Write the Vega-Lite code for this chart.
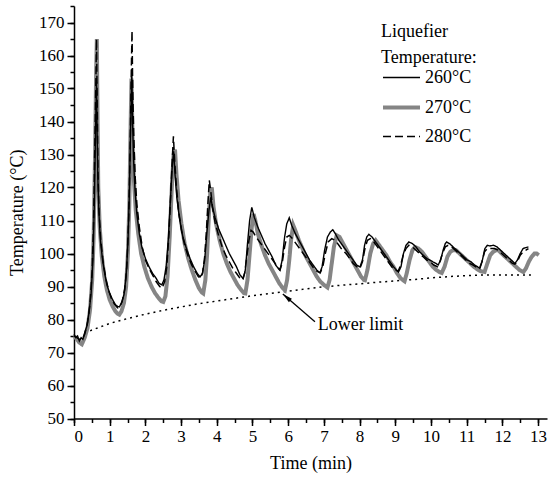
{
  "$schema": "https://vega.github.io/schema/vega-lite/v6.json",
  "autosize": {"type": "none"},
  "padding": {"left": 74, "top": 6, "right": 6, "bottom": 63},
  "width": 473,
  "height": 412.5,
  "background": "white",
  "config": {
    "view": {"stroke": null},
    "font": "Liberation Serif, Times New Roman, DejaVu Serif, serif",
    "text": {"font": "Liberation Serif, Times New Roman, DejaVu Serif, serif"},
    "axis": {
      "domainColor": "black", "domainWidth": 1.5, "tickColor": "black", "tickWidth": 1.5,
      "labelFont": "Liberation Serif, Times New Roman, DejaVu Serif, serif", "labelFontSize": 17, "labelColor": "black",
      "titleFont": "Liberation Serif, Times New Roman, DejaVu Serif, serif", "titleFontSize": 18, "titleFontWeight": "normal", "titleColor": "black",
      "grid": false
    },
    "legend": {
      "labelFont": "Liberation Serif, Times New Roman, DejaVu Serif, serif",
      "titleFont": "Liberation Serif, Times New Roman, DejaVu Serif, serif"
    }
  },
  "datasets": {
    "lim": [
      {"t": 0.3, "v": 75.8}, {"t": 0.5, "v": 76.8}, {"t": 1.0, "v": 78.8}, {"t": 1.5, "v": 80.3},
      {"t": 2.0, "v": 81.6}, {"t": 2.5, "v": 82.8}, {"t": 3.0, "v": 83.8}, {"t": 3.5, "v": 84.8},
      {"t": 4.0, "v": 85.6}, {"t": 4.5, "v": 86.4}, {"t": 5.0, "v": 87.2}, {"t": 5.5, "v": 87.9},
      {"t": 6.0, "v": 88.6}, {"t": 6.5, "v": 89.3}, {"t": 7.0, "v": 89.9}, {"t": 7.5, "v": 90.4},
      {"t": 8.0, "v": 90.8}, {"t": 8.5, "v": 91.3}, {"t": 9.0, "v": 91.7}, {"t": 9.5, "v": 92.1},
      {"t": 10.0, "v": 92.6}, {"t": 10.5, "v": 93.0}, {"t": 11.0, "v": 93.3}, {"t": 11.5, "v": 93.5},
      {"t": 12.0, "v": 93.5}, {"t": 12.5, "v": 93.5}, {"t": 12.8, "v": 93.5}
    ],
    "arrow": [{"t": 6.75, "v": 79.3, "t2": 5.85, "v2": 87.7, "ht": 5.956, "hv": 86.72}],
    "note": [{"t": 6.83, "v": 78.3, "label": "Lower limit"}],
    "series": [
      {"s":270,"t":0.00,"v":75},{"s":270,"t":0.08,"v":74},{"s":270,"t":0.15,"v":73},{"s":270,"t":0.22,"v":72.5},
      {"s":270,"t":0.30,"v":74.5},{"s":270,"t":0.38,"v":77.5},{"s":270,"t":0.45,"v":83},{"s":270,"t":0.51,"v":92},
      {"s":270,"t":0.55,"v":105},{"s":270,"t":0.59,"v":130},{"s":270,"t":0.62,"v":155},{"s":270,"t":0.64,"v":165},
      {"s":270,"t":0.66,"v":140},{"s":270,"t":0.68,"v":120},{"s":270,"t":0.72,"v":108},{"s":270,"t":0.78,"v":99},
      {"s":270,"t":0.85,"v":93},{"s":270,"t":0.92,"v":89},{"s":270,"t":1.00,"v":86},{"s":270,"t":1.08,"v":84},
      {"s":270,"t":1.16,"v":82.5},{"s":270,"t":1.22,"v":81.8},{"s":270,"t":1.27,"v":81.5},{"s":270,"t":1.33,"v":82.5},
      {"s":270,"t":1.40,"v":85},{"s":270,"t":1.46,"v":90},{"s":270,"t":1.51,"v":100},{"s":270,"t":1.55,"v":115},
      {"s":270,"t":1.58,"v":135},{"s":270,"t":1.61,"v":153},{"s":270,"t":1.64,"v":135},{"s":270,"t":1.68,"v":122},
      {"s":270,"t":1.73,"v":113},{"s":270,"t":1.80,"v":106},{"s":270,"t":1.88,"v":100},{"s":270,"t":1.97,"v":96},
      {"s":270,"t":2.07,"v":92.5},{"s":270,"t":2.17,"v":90},{"s":270,"t":2.27,"v":88},{"s":270,"t":2.37,"v":86.5},
      {"s":270,"t":2.45,"v":85.5},{"s":270,"t":2.50,"v":85.3},{"s":270,"t":2.56,"v":87},{"s":270,"t":2.62,"v":93},
      {"s":270,"t":2.68,"v":105},{"s":270,"t":2.74,"v":120},{"s":270,"t":2.79,"v":130},{"s":270,"t":2.83,"v":131.5},
      {"s":270,"t":2.87,"v":124},{"s":270,"t":2.93,"v":116},{"s":270,"t":3.01,"v":109},{"s":270,"t":3.10,"v":103},
      {"s":270,"t":3.20,"v":98.5},{"s":270,"t":3.30,"v":95},{"s":270,"t":3.40,"v":92},{"s":270,"t":3.50,"v":89.5},
      {"s":270,"t":3.58,"v":88.2},{"s":270,"t":3.62,"v":87.9},{"s":270,"t":3.68,"v":92},{"s":270,"t":3.73,"v":100},
      {"s":270,"t":3.78,"v":112},{"s":270,"t":3.82,"v":119},{"s":270,"t":3.86,"v":120},{"s":270,"t":3.91,"v":114},
      {"s":270,"t":3.98,"v":109},{"s":270,"t":4.08,"v":104},{"s":270,"t":4.18,"v":100},{"s":270,"t":4.28,"v":97},
      {"s":270,"t":4.38,"v":94.5},{"s":270,"t":4.48,"v":92.5},{"s":270,"t":4.58,"v":90.5},{"s":270,"t":4.68,"v":89},
      {"s":270,"t":4.76,"v":88},{"s":270,"t":4.80,"v":87.9},{"s":270,"t":4.86,"v":92},{"s":270,"t":4.92,"v":100},
      {"s":270,"t":4.98,"v":108},{"s":270,"t":5.03,"v":112},{"s":270,"t":5.08,"v":110},{"s":270,"t":5.15,"v":106},
      {"s":270,"t":5.25,"v":102.5},{"s":270,"t":5.35,"v":99.5},{"s":270,"t":5.45,"v":97},{"s":270,"t":5.55,"v":95},
      {"s":270,"t":5.65,"v":93},{"s":270,"t":5.75,"v":91},{"s":270,"t":5.85,"v":89.5},{"s":270,"t":5.91,"v":88.9},
      {"s":270,"t":5.97,"v":92},{"s":270,"t":6.03,"v":98},{"s":270,"t":6.08,"v":104},{"s":270,"t":6.14,"v":108.6},
      {"s":270,"t":6.20,"v":107},{"s":270,"t":6.30,"v":104},{"s":270,"t":6.40,"v":101.5},{"s":270,"t":6.50,"v":99},
      {"s":270,"t":6.60,"v":97},{"s":270,"t":6.70,"v":95},{"s":270,"t":6.80,"v":93},{"s":270,"t":6.90,"v":91.5},
      {"s":270,"t":7.00,"v":90.5},{"s":270,"t":7.10,"v":89.7},{"s":270,"t":7.16,"v":92},{"s":270,"t":7.22,"v":97},
      {"s":270,"t":7.28,"v":102},{"s":270,"t":7.36,"v":105.5},{"s":270,"t":7.44,"v":105},{"s":270,"t":7.54,"v":103},
      {"s":270,"t":7.64,"v":101},{"s":270,"t":7.74,"v":99},{"s":270,"t":7.84,"v":97},{"s":270,"t":7.94,"v":95},
      {"s":270,"t":8.04,"v":93},{"s":270,"t":8.12,"v":92},{"s":270,"t":8.15,"v":91.9},{"s":270,"t":8.22,"v":95},
      {"s":270,"t":8.30,"v":100},{"s":270,"t":8.38,"v":103},{"s":270,"t":8.45,"v":104},{"s":270,"t":8.55,"v":102.5},
      {"s":270,"t":8.65,"v":101},{"s":270,"t":8.75,"v":99.5},{"s":270,"t":8.85,"v":97.5},{"s":270,"t":8.95,"v":96},
      {"s":270,"t":9.05,"v":94},{"s":270,"t":9.15,"v":92.5},{"s":270,"t":9.26,"v":91.6},{"s":270,"t":9.32,"v":94},
      {"s":270,"t":9.40,"v":98},{"s":270,"t":9.48,"v":101},{"s":270,"t":9.55,"v":102},{"s":270,"t":9.65,"v":101.5},
      {"s":270,"t":9.75,"v":100.5},{"s":270,"t":9.85,"v":99},{"s":270,"t":9.95,"v":97.5},{"s":270,"t":10.05,"v":96},
      {"s":270,"t":10.15,"v":95},{"s":270,"t":10.25,"v":94.3},{"s":270,"t":10.30,"v":94.1},{"s":270,"t":10.38,"v":96},
      {"s":270,"t":10.46,"v":99},{"s":270,"t":10.54,"v":100.5},{"s":270,"t":10.62,"v":101},{"s":270,"t":10.70,"v":101},
      {"s":270,"t":10.80,"v":100},{"s":270,"t":10.90,"v":99},{"s":270,"t":11.00,"v":98},{"s":270,"t":11.10,"v":97},
      {"s":270,"t":11.20,"v":96},{"s":270,"t":11.30,"v":95.2},{"s":270,"t":11.40,"v":94.6},{"s":270,"t":11.50,"v":94.4},
      {"s":270,"t":11.58,"v":97},{"s":270,"t":11.66,"v":99.5},{"s":270,"t":11.74,"v":100.5},{"s":270,"t":11.82,"v":101},
      {"s":270,"t":11.89,"v":101},{"s":270,"t":11.98,"v":100},{"s":270,"t":12.08,"v":99},{"s":270,"t":12.18,"v":98},
      {"s":270,"t":12.28,"v":97},{"s":270,"t":12.38,"v":96},{"s":270,"t":12.48,"v":95},{"s":270,"t":12.59,"v":94.4},
      {"s":270,"t":12.66,"v":95.5},{"s":270,"t":12.74,"v":97.5},{"s":270,"t":12.82,"v":99},{"s":270,"t":12.90,"v":100},
      {"s":270,"t":12.96,"v":100},{"s":270,"t":13.02,"v":99.5},

      {"s":260,"t":0.00,"v":75.5},{"s":260,"t":0.05,"v":74.5},{"s":260,"t":0.10,"v":75},{"s":260,"t":0.15,"v":73.5},
      {"s":260,"t":0.20,"v":74.5},{"s":260,"t":0.25,"v":74},{"s":260,"t":0.30,"v":76},{"s":260,"t":0.36,"v":78},
      {"s":260,"t":0.42,"v":82},{"s":260,"t":0.48,"v":88},{"s":260,"t":0.53,"v":98},{"s":260,"t":0.57,"v":115},
      {"s":260,"t":0.60,"v":135},{"s":260,"t":0.63,"v":152},{"s":260,"t":0.65,"v":135},{"s":260,"t":0.67,"v":122},
      {"s":260,"t":0.70,"v":112},{"s":260,"t":0.74,"v":104},{"s":260,"t":0.80,"v":98},{"s":260,"t":0.86,"v":94},
      {"s":260,"t":0.92,"v":90.5},{"s":260,"t":1.00,"v":88},{"s":260,"t":1.08,"v":86},{"s":260,"t":1.16,"v":84.5},
      {"s":260,"t":1.22,"v":84},{"s":260,"t":1.27,"v":83.8},{"s":260,"t":1.33,"v":85},{"s":260,"t":1.40,"v":87.5},
      {"s":260,"t":1.46,"v":93},{"s":260,"t":1.51,"v":103},{"s":260,"t":1.55,"v":118},{"s":260,"t":1.59,"v":140},
      {"s":260,"t":1.62,"v":156},{"s":260,"t":1.64,"v":140},{"s":260,"t":1.67,"v":128},{"s":260,"t":1.71,"v":119},
      {"s":260,"t":1.76,"v":112},{"s":260,"t":1.83,"v":106},{"s":260,"t":1.90,"v":102},{"s":260,"t":2.00,"v":98.5},
      {"s":260,"t":2.10,"v":96},{"s":260,"t":2.20,"v":94},{"s":260,"t":2.30,"v":92.5},{"s":260,"t":2.38,"v":91},
      {"s":260,"t":2.46,"v":90.5},{"s":260,"t":2.52,"v":92},{"s":260,"t":2.58,"v":96},{"s":260,"t":2.64,"v":104},
      {"s":260,"t":2.70,"v":116},{"s":260,"t":2.75,"v":126},{"s":260,"t":2.79,"v":131},{"s":260,"t":2.83,"v":124},
      {"s":260,"t":2.88,"v":117},{"s":260,"t":2.95,"v":111},{"s":260,"t":3.05,"v":105},{"s":260,"t":3.15,"v":101.5},
      {"s":260,"t":3.25,"v":98.5},{"s":260,"t":3.35,"v":96},{"s":260,"t":3.45,"v":94},{"s":260,"t":3.53,"v":92.9},
      {"s":260,"t":3.60,"v":94},{"s":260,"t":3.66,"v":98},{"s":260,"t":3.72,"v":106},{"s":260,"t":3.78,"v":113},
      {"s":260,"t":3.83,"v":117},{"s":260,"t":3.88,"v":114},{"s":260,"t":3.95,"v":111},{"s":260,"t":4.05,"v":107.5},
      {"s":260,"t":4.15,"v":105},{"s":260,"t":4.25,"v":102.5},{"s":260,"t":4.35,"v":100},{"s":260,"t":4.45,"v":98},
      {"s":260,"t":4.55,"v":96},{"s":260,"t":4.65,"v":93.5},{"s":260,"t":4.74,"v":92.4},{"s":260,"t":4.80,"v":95},
      {"s":260,"t":4.86,"v":103},{"s":260,"t":4.92,"v":110},{"s":260,"t":4.98,"v":114},{"s":260,"t":5.05,"v":111},
      {"s":260,"t":5.15,"v":108},{"s":260,"t":5.25,"v":105.5},{"s":260,"t":5.35,"v":103},{"s":260,"t":5.45,"v":101},
      {"s":260,"t":5.55,"v":99},{"s":260,"t":5.65,"v":96.5},{"s":260,"t":5.72,"v":95.5},{"s":260,"t":5.77,"v":94.9},
      {"s":260,"t":5.83,"v":98},{"s":260,"t":5.90,"v":105},{"s":260,"t":5.96,"v":109},{"s":260,"t":6.03,"v":110.8},
      {"s":260,"t":6.10,"v":108.5},{"s":260,"t":6.20,"v":106},{"s":260,"t":6.30,"v":104},{"s":260,"t":6.40,"v":102},
      {"s":260,"t":6.50,"v":100},{"s":260,"t":6.60,"v":98},{"s":260,"t":6.70,"v":96.5},{"s":260,"t":6.80,"v":95},
      {"s":260,"t":6.89,"v":94.1},{"s":260,"t":6.95,"v":96},{"s":260,"t":7.02,"v":101},{"s":260,"t":7.10,"v":105},
      {"s":260,"t":7.18,"v":106.5},{"s":260,"t":7.25,"v":107.2},{"s":260,"t":7.32,"v":106},{"s":260,"t":7.42,"v":104},
      {"s":260,"t":7.52,"v":102.5},{"s":260,"t":7.62,"v":101},{"s":260,"t":7.72,"v":99.5},{"s":260,"t":7.82,"v":98},
      {"s":260,"t":7.92,"v":96.5},{"s":260,"t":8.01,"v":95.9},{"s":260,"t":8.08,"v":98},{"s":260,"t":8.14,"v":102.5},
      {"s":260,"t":8.20,"v":105},{"s":260,"t":8.26,"v":105.8},{"s":260,"t":8.35,"v":105},{"s":260,"t":8.45,"v":103.5},
      {"s":260,"t":8.55,"v":102},{"s":260,"t":8.65,"v":100.5},{"s":260,"t":8.75,"v":99},{"s":260,"t":8.85,"v":97.5},
      {"s":260,"t":8.95,"v":96},{"s":260,"t":9.03,"v":95},{"s":260,"t":9.09,"v":94.4},{"s":260,"t":9.16,"v":96},
      {"s":260,"t":9.23,"v":100},{"s":260,"t":9.30,"v":102.5},{"s":260,"t":9.38,"v":103.5},{"s":260,"t":9.48,"v":103},
      {"s":260,"t":9.58,"v":102},{"s":260,"t":9.68,"v":100.5},{"s":260,"t":9.78,"v":99.5},{"s":260,"t":9.88,"v":98.5},
      {"s":260,"t":9.97,"v":98},{"s":260,"t":10.05,"v":97.5},{"s":260,"t":10.14,"v":97},{"s":260,"t":10.20,"v":96.5},
      {"s":260,"t":10.27,"v":98},{"s":260,"t":10.34,"v":101},{"s":260,"t":10.40,"v":103},{"s":260,"t":10.44,"v":103.5},
      {"s":260,"t":10.52,"v":103},{"s":260,"t":10.62,"v":102},{"s":260,"t":10.72,"v":101},{"s":260,"t":10.82,"v":100},
      {"s":260,"t":10.92,"v":99},{"s":260,"t":11.02,"v":98},{"s":260,"t":11.12,"v":97.5},{"s":260,"t":11.22,"v":96.5},
      {"s":260,"t":11.30,"v":96},{"s":260,"t":11.37,"v":95.5},{"s":260,"t":11.44,"v":98},{"s":260,"t":11.51,"v":101.5},
      {"s":260,"t":11.58,"v":102.5},{"s":260,"t":11.65,"v":102.3},{"s":260,"t":11.75,"v":102.5},{"s":260,"t":11.85,"v":102},
      {"s":260,"t":11.95,"v":101},{"s":260,"t":12.05,"v":100},{"s":260,"t":12.15,"v":99},{"s":260,"t":12.25,"v":98},
      {"s":260,"t":12.35,"v":97},{"s":260,"t":12.42,"v":98},{"s":260,"t":12.50,"v":100},{"s":260,"t":12.58,"v":101.5},
      {"s":260,"t":12.66,"v":101.8},{"s":260,"t":12.73,"v":102},

      {"s":280,"t":0.00,"v":75},{"s":280,"t":0.08,"v":74.5},{"s":280,"t":0.15,"v":74},{"s":280,"t":0.22,"v":73.8},
      {"s":280,"t":0.30,"v":75.5},{"s":280,"t":0.38,"v":79},{"s":280,"t":0.45,"v":85},{"s":280,"t":0.51,"v":95},
      {"s":280,"t":0.55,"v":110},{"s":280,"t":0.58,"v":130},{"s":280,"t":0.61,"v":150},{"s":280,"t":0.63,"v":165},
      {"s":280,"t":0.65,"v":145},{"s":280,"t":0.67,"v":125},{"s":280,"t":0.70,"v":113},{"s":280,"t":0.75,"v":104},
      {"s":280,"t":0.82,"v":97},{"s":280,"t":0.90,"v":92},{"s":280,"t":0.98,"v":88.5},{"s":280,"t":1.06,"v":86},
      {"s":280,"t":1.14,"v":84.5},{"s":280,"t":1.22,"v":83.5},{"s":280,"t":1.28,"v":83.8},{"s":280,"t":1.35,"v":85.5},
      {"s":280,"t":1.42,"v":89},{"s":280,"t":1.48,"v":96},{"s":280,"t":1.53,"v":110},{"s":280,"t":1.57,"v":130},
      {"s":280,"t":1.60,"v":152},{"s":280,"t":1.625,"v":167.5},{"s":280,"t":1.645,"v":150},{"s":280,"t":1.67,"v":137},
      {"s":280,"t":1.71,"v":124},{"s":280,"t":1.76,"v":115},{"s":280,"t":1.83,"v":108},{"s":280,"t":1.91,"v":102},
      {"s":280,"t":2.00,"v":98},{"s":280,"t":2.10,"v":95.5},{"s":280,"t":2.20,"v":93.5},{"s":280,"t":2.30,"v":91.5},
      {"s":280,"t":2.40,"v":90},{"s":280,"t":2.47,"v":89.5},{"s":280,"t":2.54,"v":91.5},{"s":280,"t":2.60,"v":96},
      {"s":280,"t":2.66,"v":106},{"s":280,"t":2.71,"v":118},{"s":280,"t":2.75,"v":128},{"s":280,"t":2.785,"v":135.5},
      {"s":280,"t":2.82,"v":128},{"s":280,"t":2.87,"v":120},{"s":280,"t":2.93,"v":113},{"s":280,"t":3.01,"v":107},
      {"s":280,"t":3.10,"v":102.5},{"s":280,"t":3.20,"v":99},{"s":280,"t":3.30,"v":96.5},{"s":280,"t":3.40,"v":94.5},
      {"s":280,"t":3.48,"v":93},{"s":280,"t":3.54,"v":92.5},{"s":280,"t":3.60,"v":94},{"s":280,"t":3.66,"v":99},
      {"s":280,"t":3.71,"v":107},{"s":280,"t":3.75,"v":115},{"s":280,"t":3.79,"v":122.2},{"s":280,"t":3.83,"v":119},
      {"s":280,"t":3.88,"v":114},{"s":280,"t":3.95,"v":109.5},{"s":280,"t":4.05,"v":105.5},{"s":280,"t":4.15,"v":102},
      {"s":280,"t":4.25,"v":99.5},{"s":280,"t":4.35,"v":97.5},{"s":280,"t":4.45,"v":95.5},{"s":280,"t":4.55,"v":94},
      {"s":280,"t":4.65,"v":92.5},{"s":280,"t":4.72,"v":92},{"s":280,"t":4.78,"v":94},{"s":280,"t":4.84,"v":99},
      {"s":280,"t":4.90,"v":104},{"s":280,"t":4.96,"v":107},{"s":280,"t":5.02,"v":106.5},{"s":280,"t":5.10,"v":105},
      {"s":280,"t":5.20,"v":103.5},{"s":280,"t":5.30,"v":102},{"s":280,"t":5.40,"v":100.5},{"s":280,"t":5.50,"v":99},
      {"s":280,"t":5.60,"v":97.5},{"s":280,"t":5.70,"v":96},{"s":280,"t":5.77,"v":95},{"s":280,"t":5.83,"v":97},
      {"s":280,"t":5.90,"v":102},{"s":280,"t":5.96,"v":105},{"s":280,"t":6.03,"v":105.5},{"s":280,"t":6.12,"v":104.5},
      {"s":280,"t":6.22,"v":103},{"s":280,"t":6.32,"v":101.5},{"s":280,"t":6.42,"v":100},{"s":280,"t":6.52,"v":98.5},
      {"s":280,"t":6.62,"v":97},{"s":280,"t":6.72,"v":95.5},{"s":280,"t":6.82,"v":94.5},{"s":280,"t":6.90,"v":94.2},
      {"s":280,"t":6.97,"v":96},{"s":280,"t":7.04,"v":100},{"s":280,"t":7.12,"v":103.5},{"s":280,"t":7.22,"v":104.5},
      {"s":280,"t":7.32,"v":104},{"s":280,"t":7.42,"v":102.5},{"s":280,"t":7.52,"v":101},{"s":280,"t":7.62,"v":100},
      {"s":280,"t":7.72,"v":98.5},{"s":280,"t":7.82,"v":97},{"s":280,"t":7.92,"v":96},{"s":280,"t":8.01,"v":95.5},
      {"s":280,"t":8.08,"v":97.5},{"s":280,"t":8.15,"v":101.5},{"s":280,"t":8.22,"v":104},{"s":280,"t":8.30,"v":104.5},
      {"s":280,"t":8.40,"v":103.5},{"s":280,"t":8.50,"v":102},{"s":280,"t":8.60,"v":100.5},{"s":280,"t":8.70,"v":99},
      {"s":280,"t":8.80,"v":97.5},{"s":280,"t":8.90,"v":96},{"s":280,"t":9.00,"v":95},{"s":280,"t":9.08,"v":94.6},
      {"s":280,"t":9.15,"v":96.5},{"s":280,"t":9.22,"v":99.5},{"s":280,"t":9.30,"v":101.5},{"s":280,"t":9.38,"v":102.5},
      {"s":280,"t":9.48,"v":102},{"s":280,"t":9.58,"v":101},{"s":280,"t":9.68,"v":100},{"s":280,"t":9.78,"v":99},
      {"s":280,"t":9.88,"v":98},{"s":280,"t":9.98,"v":97.5},{"s":280,"t":10.08,"v":96.5},{"s":280,"t":10.18,"v":96},
      {"s":280,"t":10.25,"v":97.5},{"s":280,"t":10.32,"v":100},{"s":280,"t":10.40,"v":102},{"s":280,"t":10.48,"v":102.5},
      {"s":280,"t":10.58,"v":102},{"s":280,"t":10.68,"v":101},{"s":280,"t":10.78,"v":100},{"s":280,"t":10.88,"v":99},
      {"s":280,"t":10.98,"v":98},{"s":280,"t":11.08,"v":97},{"s":280,"t":11.18,"v":96.5},{"s":280,"t":11.28,"v":95.8},
      {"s":280,"t":11.36,"v":95.5},{"s":280,"t":11.43,"v":97.5},{"s":280,"t":11.50,"v":100.5},{"s":280,"t":11.58,"v":101.5},
      {"s":280,"t":11.68,"v":101.5},{"s":280,"t":11.78,"v":101.5},{"s":280,"t":11.88,"v":101},{"s":280,"t":11.98,"v":100},
      {"s":280,"t":12.08,"v":99},{"s":280,"t":12.18,"v":98},{"s":280,"t":12.28,"v":97},{"s":280,"t":12.35,"v":96.8},
      {"s":280,"t":12.42,"v":97.5},{"s":280,"t":12.50,"v":99.5},{"s":280,"t":12.58,"v":100.5},{"s":280,"t":12.66,"v":101},
      {"s":280,"t":12.73,"v":101.5}
    ]
  },
  "resolve": {"axis": {"x": "independent", "y": "independent"}},
  "layer": [
    {
      "data": {"name": "lim"},
      "mark": {"type": "line", "color": "black", "strokeWidth": 1.5, "strokeDash": [2, 4]},
      "encoding": {
        "x": {"field": "t", "type": "quantitative", "scale": {"domain": [0, 13.25], "nice": false, "zero": false},
              "axis": {"orient": "bottom", "values": [0,0.5,1,1.5,2,2.5,3,3.5,4,4.5,5,5.5,6,6.5,7,7.5,8,8.5,9,9.5,10,10.5,11,11.5,12,12.5,13], "tickSize": 4, "labels": false, "domain": false, "title": null}},
        "y": {"field": "v", "type": "quantitative", "scale": {"domain": [50, 175], "nice": false, "zero": false},
              "axis": {"orient": "left", "values": [50,55,60,65,70,75,80,85,90,95,100,105,110,115,120,125,130,135,140,145,150,155,160,165,170,175], "tickSize": 4, "labels": false, "domain": false, "title": null}}
      }
    },
    {
      "data": {"name": "series"},
      "transform": [{"filter": "datum.s == 270"}],
      "mark": {"type": "line"},
      "encoding": {
        "x": {"field": "t", "type": "quantitative", "scale": {"domain": [0, 13.25], "nice": false, "zero": false},
              "axis": {"orient": "bottom", "values": [0,1,2,3,4,5,6,7,8,9,10,11,12,13], "tickSize": 7, "labelPadding": 3, "title": "Time (min)", "titlePadding": 10}},
        "y": {"field": "v", "type": "quantitative", "scale": {"domain": [50, 175], "nice": false, "zero": false},
              "axis": {"orient": "left", "values": [50,60,70,80,90,100,110,120,130,140,150,160,170], "tickSize": 7, "labelPadding": 3, "title": "Temperature (°C)", "titlePadding": 12}},
        "color": {"field": "s", "type": "nominal", "scale": {"domain": [260, 270, 280], "range": ["#000000", "#858585", "#000000"]},
                  "legend": {"title": ["Liquefier", "Temperature:"], "orient": "none", "legendX": 307, "legendY": 17, "padding": 0,
                             "labelExpr": "datum.label + '°C'", "symbolType": "stroke", "symbolSize": 1369,
                             "labelFont": "Liberation Serif, Times New Roman, DejaVu Serif, serif", "labelFontSize": 18, "labelColor": "black", "labelOffset": 3,
                             "titleFont": "Liberation Serif, Times New Roman, DejaVu Serif, serif", "titleFontSize": 18, "titleFontWeight": "normal", "titleColor": "black",
                             "titleLineHeight": 26, "titlePadding": -9, "rowPadding": -6}},
        "strokeWidth": {"field": "s", "type": "nominal", "scale": {"type": "ordinal", "domain": [260, 270, 280], "range": [1.4, 4, 1.5]}},
        "strokeDash": {"field": "s", "type": "nominal", "scale": {"domain": [260, 270, 280], "range": [[1, 0], [1, 0], [8, 4]]}}
      }
    },
    {
      "data": {"name": "series"},
      "transform": [{"filter": "datum.s != 270"}],
      "mark": {"type": "line"},
      "encoding": {
        "x": {"field": "t", "type": "quantitative", "scale": {"domain": [0, 13.25], "nice": false, "zero": false}, "axis": null},
        "y": {"field": "v", "type": "quantitative", "scale": {"domain": [50, 175], "nice": false, "zero": false}, "axis": null},
        "color": {"field": "s", "type": "nominal", "scale": {"domain": [260, 270, 280], "range": ["#000000", "#858585", "#000000"]}},
        "strokeWidth": {"field": "s", "type": "nominal", "scale": {"type": "ordinal", "domain": [260, 270, 280], "range": [1.4, 4, 1.5]}},
        "strokeDash": {"field": "s", "type": "nominal", "scale": {"domain": [260, 270, 280], "range": [[1, 0], [1, 0], [8, 4]]}}
      }
    },
    {
      "data": {"name": "arrow"},
      "mark": {"type": "rule", "color": "black", "strokeWidth": 1.3},
      "encoding": {
        "x": {"field": "t", "type": "quantitative", "scale": {"domain": [0, 13.25], "nice": false, "zero": false}, "axis": null},
        "y": {"field": "v", "type": "quantitative", "scale": {"domain": [50, 175], "nice": false, "zero": false}, "axis": null},
        "x2": {"field": "t2"},
        "y2": {"field": "v2"}
      }
    },
    {
      "data": {"name": "arrow"},
      "mark": {"type": "point", "shape": "M0,-1L0.45,1L-0.45,1Z", "filled": true, "color": "black", "opacity": 1, "size": 100, "angle": 310.6},
      "encoding": {
        "x": {"field": "ht", "type": "quantitative", "scale": {"domain": [0, 13.25], "nice": false, "zero": false}, "axis": null},
        "y": {"field": "hv", "type": "quantitative", "scale": {"domain": [50, 175], "nice": false, "zero": false}, "axis": null}
      }
    },
    {
      "data": {"name": "note"},
      "mark": {"type": "text", "align": "left", "baseline": "middle", "font": "Liberation Serif, Times New Roman, DejaVu Serif, serif", "fontSize": 18, "color": "black"},
      "encoding": {
        "x": {"field": "t", "type": "quantitative", "scale": {"domain": [0, 13.25], "nice": false, "zero": false}, "axis": null},
        "y": {"field": "v", "type": "quantitative", "scale": {"domain": [50, 175], "nice": false, "zero": false}, "axis": null},
        "text": {"field": "label"}
      }
    }
  ]
}
